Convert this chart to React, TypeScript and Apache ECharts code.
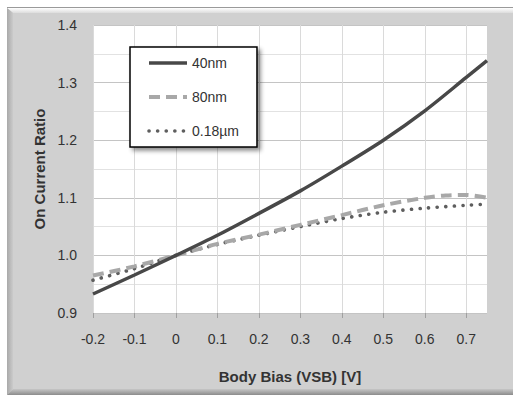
import React, { useEffect, useRef } from "react";
import * as echarts from "echarts";

const xValues = [-0.2, -0.1, 0, 0.1, 0.2, 0.3, 0.4, 0.5, 0.6, 0.7, 0.75];
const xValues80nm = [-0.2, -0.1, 0, 0.1, 0.2, 0.3, 0.4, 0.5, 0.6, 0.65, 0.7, 0.75];
const series40nm = [0.933, 0.966, 1.0, 1.035, 1.073, 1.112, 1.155, 1.2, 1.251, 1.309, 1.338];
const series80nm = [0.965, 0.981, 1.0, 1.02, 1.036, 1.053, 1.07, 1.087, 1.1, 1.104, 1.105, 1.1];
const series018um = [0.957, 0.977, 1.0, 1.019, 1.035, 1.05, 1.064, 1.075, 1.082, 1.087, 1.089];
const seriesNames = ["40nm", "80nm", "0.18µm"];
const xTickValues = [-0.2, -0.1, 0, 0.1, 0.2, 0.3, 0.4, 0.5, 0.6, 0.7];
const xAxisTitle = "Body Bias (VSB) [V]";
const yAxisTitle = "On Current Ratio";

const FONT = "'Liberation Sans', Arial, sans-serif";

export default function App() {
  const ref = useRef<HTMLDivElement>(null);
  useEffect(() => {
    if (!ref.current) return;
    const chart = echarts.init(ref.current, null, { renderer: "svg" });
    const pair = (xs: number[], ys: number[]) => xs.map((x, i) => [x, ys[i]]);
    const textColor = "#333";
    chart.setOption({
      animation: false,
      backgroundColor: "#ffffff",
      textStyle: { fontFamily: FONT },
      graphic: [
        { type: "rect", z: -100, silent: true, shape: { x: 7, y: 7, width: 520, height: 388 }, style: { fill: "#d0d0d0" } },
        {
          type: "polygon", z: -99, silent: true,
          shape: { points: [[7, 8], [520, 8], [520, 13], [13, 13]] },
          style: { fill: new echarts.graphic.LinearGradient(0, 0, 0, 1, [{ offset: 0, color: "#ffffff" }, { offset: 1, color: "#dcdcdc" }]) },
        },
        {
          type: "polygon", z: -99, silent: true,
          shape: { points: [[7, 8], [13, 13], [13, 389], [7, 395]] },
          style: { fill: new echarts.graphic.LinearGradient(0, 0, 1, 0, [{ offset: 0, color: "#a9a9a9" }, { offset: 1, color: "#cbcbcb" }]) },
        },
        {
          type: "polygon", z: -99, silent: true,
          shape: { points: [[7, 395], [13, 389], [520, 389], [520, 395]] },
          style: { fill: new echarts.graphic.LinearGradient(0, 0, 0, 1, [{ offset: 0, color: "#c6c6c6" }, { offset: 1, color: "#8c8c8c" }]) },
        },
        { type: "rect", z: -98, silent: true, shape: { x: 7, y: 7, width: 513, height: 1 }, style: { fill: "#9a9a9a" } },
      ],
      grid: {
        left: 93, top: 25, right: 26, bottom: 85,
        show: true, backgroundColor: "#ffffff", borderWidth: 0,
      },
      legend: {
        orient: "vertical",
        left: 130, top: 47,
        padding: [9, 18, 9, 17],
        itemWidth: 38, itemHeight: 14, itemGap: 20,
        backgroundColor: "#ffffff",
        borderColor: "#000000", borderWidth: 1.5,
        shadowBlur: 4, shadowColor: "rgba(0,0,0,0.45)", shadowOffsetX: 3, shadowOffsetY: 3,
        itemStyle: { opacity: 0 },
        lineStyle: { width: "inherit" },
        textStyle: { fontFamily: FONT, fontSize: 14, color: textColor },
        data: seriesNames,
      },
      xAxis: {
        type: "value",
        min: -0.2, max: 0.75, interval: 0.1,
        name: xAxisTitle, nameLocation: "middle", nameGap: 56,
        nameTextStyle: { fontFamily: FONT, fontSize: 15, fontWeight: "bold", color: textColor },
        axisLine: { show: false },
        axisTick: { show: true, length: 5, lineStyle: { color: "#a0a0a0" }, customValues: xTickValues },
        axisLabel: {
          customValues: xTickValues, margin: 19,
          fontFamily: FONT, fontSize: 14, color: textColor,
          formatter: (v: number) => (Math.abs(v) < 1e-9 ? "0" : v.toFixed(1)),
        },
        splitLine: { show: true, lineStyle: { color: "#dadada", width: 1 } },
      },
      yAxis: {
        type: "value",
        min: 0.9, max: 1.4, interval: 0.1,
        name: yAxisTitle, nameLocation: "middle", nameGap: 44, nameRotate: 90,
        nameTextStyle: { fontFamily: FONT, fontSize: 15, fontWeight: "bold", color: textColor },
        axisLine: { show: false },
        axisTick: { show: false },
        minorTick: { show: false, splitNumber: 2 },
        minorSplitLine: { show: true, lineStyle: { color: "#e2e2e2", width: 1 } },
        axisLabel: {
          margin: 16, fontFamily: FONT, fontSize: 14, color: textColor,
          formatter: (v: number) => v.toFixed(1),
        },
        splitLine: { show: true, lineStyle: { color: "#c4c4c4", width: 1 } },
      },
      series: [
        {
          name: seriesNames[0], type: "line", data: pair(xValues, series40nm), smooth: 0.3, symbol: "none",
          lineStyle: { color: "#484848", width: 3.5 }, itemStyle: { color: "#484848" }, z: 5,
        },
        {
          name: seriesNames[1], type: "line", data: pair(xValues80nm, series80nm), smooth: 0.3, symbol: "none",
          lineStyle: { color: "#a8a8a8", width: 4, type: [11, 6] }, itemStyle: { color: "#a8a8a8" }, z: 4,
        },
        {
          name: seriesNames[2], type: "line", data: pair(xValues, series018um), smooth: 0.3, symbol: "none",
          lineStyle: { color: "#5e5e5e", width: 3.6, type: [0.1, 8.5], cap: "round" }, itemStyle: { color: "#5e5e5e" }, z: 3,
        },
      ],
    });
    return () => chart.dispose();
  }, []);
  return <div ref={ref} style={{ position: "fixed", left: 0, top: 0, width: 513, height: 398 }} />;
}
